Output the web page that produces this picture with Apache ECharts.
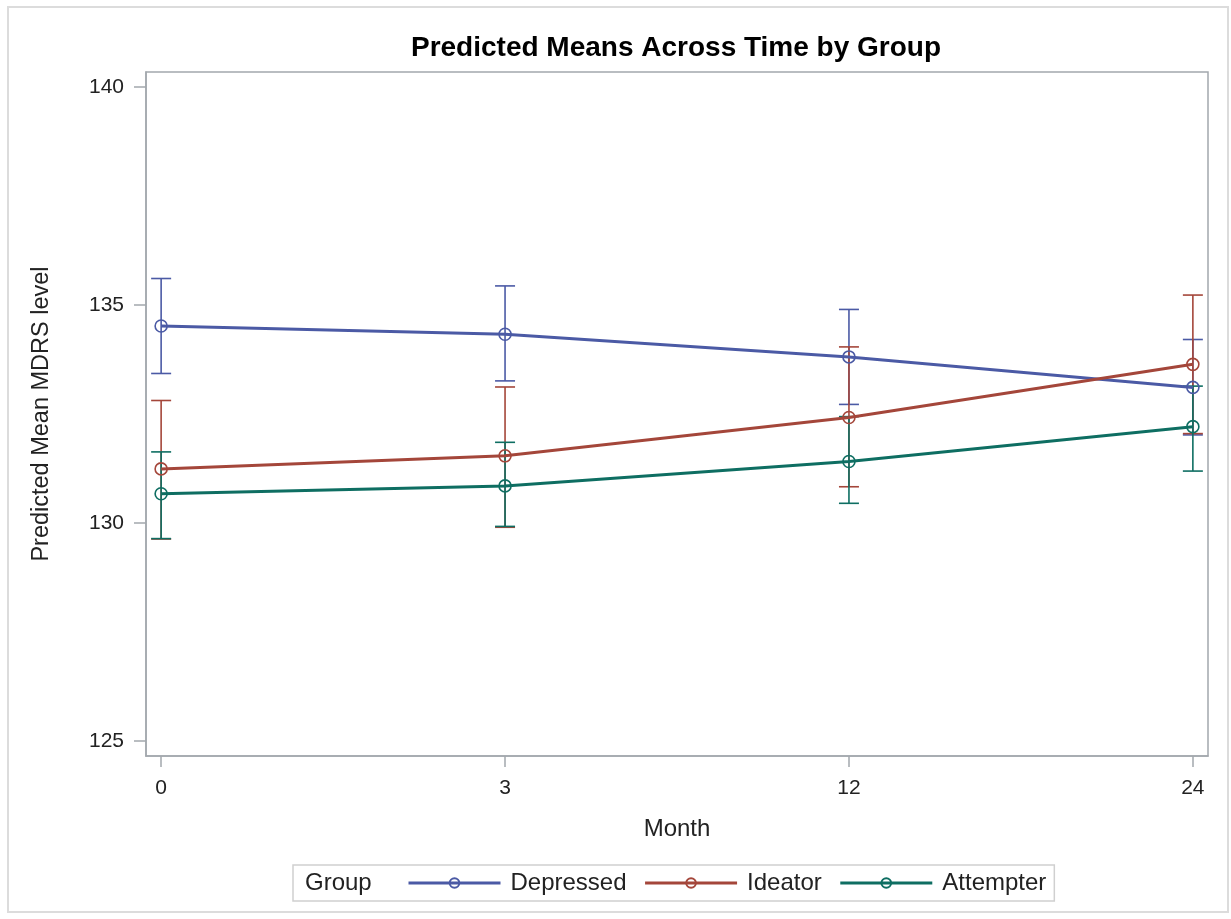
<!DOCTYPE html>
<html>
<head>
<meta charset="utf-8">
<title>Predicted Means Across Time by Group</title>
<script src="https://cdn.jsdelivr.net/npm/echarts@6/dist/echarts.min.js"></script>
<style>
  html, body { margin: 0; padding: 0; background: #fff; }
  #chart { width: 1231px; height: 919px; }
</style>
</head>
<body>
<div id="chart"></div>
<script>
// 数据
var months = ['0', '3', '12', '24'];
var groups = ['Depressed', 'Ideator', 'Attempter'];

var depressedMean = [134.52, 134.33, 133.81, 133.11];
var depressedLow = [133.43, 133.26, 132.72, 132.02];
var depressedHigh = [135.61, 135.44, 134.90, 134.21];

var ideatorMean = [131.24, 131.54, 132.42, 133.64];
var ideatorLow = [129.63, 129.90, 130.83, 132.05];
var ideatorHigh = [132.81, 133.12, 134.04, 135.23];

var attempterMean = [130.67, 130.85, 131.41, 132.21];
var attempterLow = [129.64, 129.92, 130.45, 131.19];
var attempterHigh = [131.63, 131.85, 132.44, 133.14];

var yTicks = [125, 130, 135, 140];

var colors = ['#4b5aa5', '#a4463a', '#0e6e62'];
var font = '"Liberation Sans", Arial, sans-serif';
var axisGray = '#a3a8ad';

var chart = echarts.init(document.getElementById('chart'));

function lineSeries(name, mean, color) {
    return {
        name: name,
        type: 'line',
        data: mean.map(function (v, i) { return [i, v]; }),
        symbol: 'circle',
        symbolSize: 12,
        z: 3,
        lineStyle: { color: color, width: 3 },
        itemStyle: { color: 'rgba(255,255,255,0)', borderColor: color, borderWidth: 1.6 }
    };
}

// 误差线
function errorSeries(name, low, high, color) {
    return {
        name: name + ' CI',
        type: 'custom',
        z: 2,
        data: low.map(function (v, i) { return [i, v, high[i]]; }),
        renderItem: function (params, api) {
            var x = api.value(0);
            var lo = api.coord([x, api.value(1)]);
            var hi = api.coord([x, api.value(2)]);
            var w = 10;
            var style = { stroke: color, lineWidth: 1.6 };
            return {
                type: 'group',
                children: [
                    { type: 'line', shape: { x1: lo[0], y1: lo[1], x2: hi[0], y2: hi[1] }, style: style },
                    { type: 'line', shape: { x1: lo[0] - w, y1: lo[1], x2: lo[0] + w, y2: lo[1] }, style: style },
                    { type: 'line', shape: { x1: hi[0] - w, y1: hi[1], x2: hi[0] + w, y2: hi[1] }, style: style }
                ]
            };
        }
    };
}

var option = {
    animation: false,
    backgroundColor: '#fff',
    title: {
        text: 'Predicted Means Across Time by Group',
        left: 671,
        textAlign: 'center',
        top: 29,
        textStyle: { fontFamily: font, fontSize: 28, fontWeight: 'bold', color: '#000' }
    },
    grid: {
        left: 146,
        top: 72,
        right: 23,
        bottom: 163,
        show: true,
        borderColor: axisGray,
        borderWidth: 1.5
    },
    legend: {
        data: groups,
        left: 293,
        top: 865,
        orient: 'horizontal',
        padding: [6, 8, 6, 114],
        itemWidth: 92,
        itemHeight: 12,
        itemGap: 17,
        borderColor: '#d0d0d0',
        borderWidth: 1.5,
        selectedMode: false,
        lineStyle: { width: 3 },
        textStyle: { fontFamily: font, fontSize: 24, color: '#222', padding: [0, 0, 0, 5] }
    },
    graphic: [
        {
            type: 'rect',
            shape: { x: 8, y: 7, width: 1220, height: 905 },
            style: { fill: 'none', stroke: '#dcdcdc', lineWidth: 2 },
            z: -1
        },
        {
            type: 'text',
            left: 305,
            top: 871,
            style: { text: 'Group', font: '24px ' + font, fill: '#222' }
        }
    ],
    xAxis: {
        type: 'value',
        min: -0.044,
        max: 3.044,
        name: 'Month',
        nameLocation: 'middle',
        nameGap: 61,
        nameTextStyle: { fontFamily: font, fontSize: 24, color: '#222' },
        axisLine: { show: true, onZero: false, lineStyle: { color: axisGray, width: 1.5 } },
        axisTick: { show: true, length: 11, customValues: [0, 1, 2, 3], lineStyle: { color: axisGray, width: 1.5 } },
        axisLabel: {
            customValues: [0, 1, 2, 3],
            margin: 22,
            fontFamily: font,
            fontSize: 21,
            color: '#222',
            formatter: function (v) { return months[Math.round(v)]; }
        },
        splitLine: { show: false }
    },
    yAxis: {
        type: 'value',
        min: 124.65,
        max: 140.35,
        name: 'Predicted Mean MDRS level',
        nameLocation: 'middle',
        nameGap: 104,
        nameTextStyle: { fontFamily: font, fontSize: 23.5, color: '#222', verticalAlign: 'middle' },
        axisLine: { show: true, onZero: false, lineStyle: { color: axisGray, width: 1.5 } },
        axisTick: { show: true, length: 12, customValues: yTicks, lineStyle: { color: axisGray, width: 1.5 } },
        axisLabel: {
            customValues: yTicks,
            margin: 22,
            fontFamily: font,
            fontSize: 21,
            color: '#222'
        },
        splitLine: { show: false }
    },
    series: [
        errorSeries('Depressed', depressedLow, depressedHigh, colors[0]),
        errorSeries('Ideator', ideatorLow, ideatorHigh, colors[1]),
        errorSeries('Attempter', attempterLow, attempterHigh, colors[2]),
        lineSeries('Depressed', depressedMean, colors[0]),
        lineSeries('Ideator', ideatorMean, colors[1]),
        lineSeries('Attempter', attempterMean, colors[2])
    ]
};

chart.setOption(option);
</script>
</body>
</html>
